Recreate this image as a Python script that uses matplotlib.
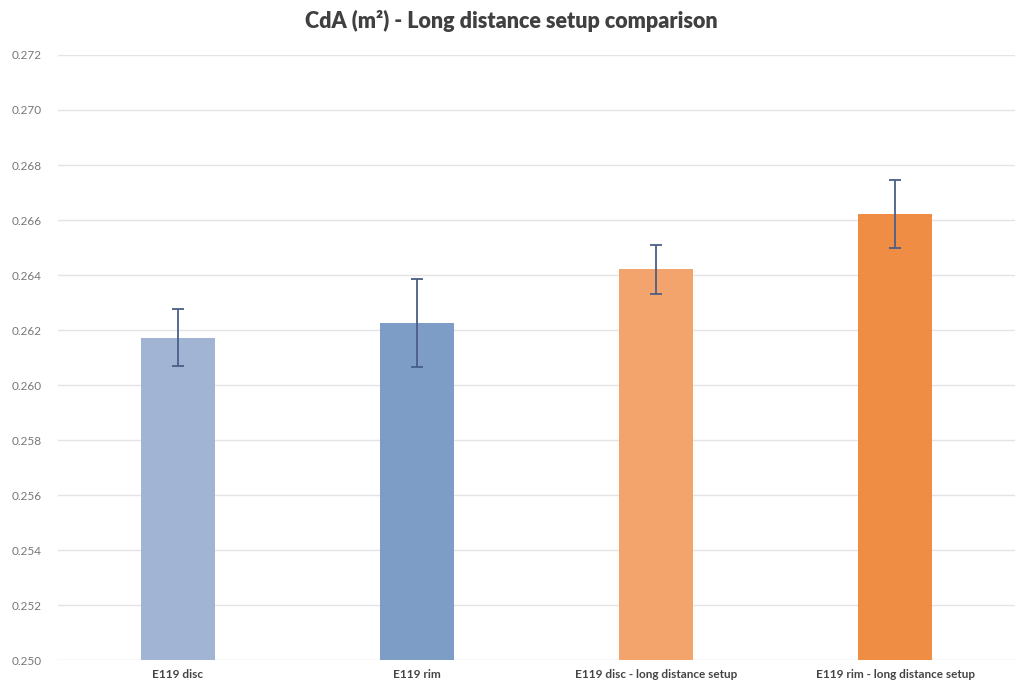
import numpy as np
import matplotlib.pyplot as plt

categories = ["E119 disc", "E119 rim", "E119 disc - long distance setup", "E119 rim - long distance setup"]
cda = [0.26173, 0.26225, 0.26421, 0.26621]
err = [0.00104, 0.00160, 0.00090, 0.00124]
colors = ["#A1B4D3", "#7D9CC6", "#F2A46C", "#EF8D45"]
yticks = [0.250, 0.252, 0.254, 0.256, 0.258, 0.260, 0.262, 0.264, 0.266, 0.268, 0.270, 0.272]

plt.rcParams["font.family"] = ["Lato", "DejaVu Sans"]

fig = plt.figure(figsize=(10.22, 6.87), dpi=100)
ax = fig.add_axes([0.057, 0.039, 0.936, 0.881])

x = np.arange(len(categories))
ax.bar(x, cda, width=0.31, color=colors, zorder=2)
ax.errorbar(x, cda, yerr=err, fmt="none", ecolor="#4A5F86", elinewidth=1.3,
            capsize=4, capthick=1.3, zorder=3)

ax.set_ylim(0.250, 0.272)
ax.set_xlim(-0.5, len(categories) - 0.5)
ax.set_yticks(yticks)
ax.set_yticklabels([f"{v:.3f}" for v in yticks], fontsize=8.5, color="#777777")
ax.set_xticks(x)
ax.set_xticklabels(categories, fontsize=8.5, fontweight="bold", color="#444444")
ax.tick_params(length=0, pad=6)
ax.tick_params(axis="y", pad=12)
ax.grid(axis="y", color="#E4E4E4", linewidth=1, zorder=0)
for s in ax.spines.values():
    s.set_visible(False)

fig.suptitle("CdA (m²) - Long distance setup comparison", y=0.985, fontsize=15.5,
             fontweight="heavy", color="#404040")

fig.savefig("out.png", dpi=100)
